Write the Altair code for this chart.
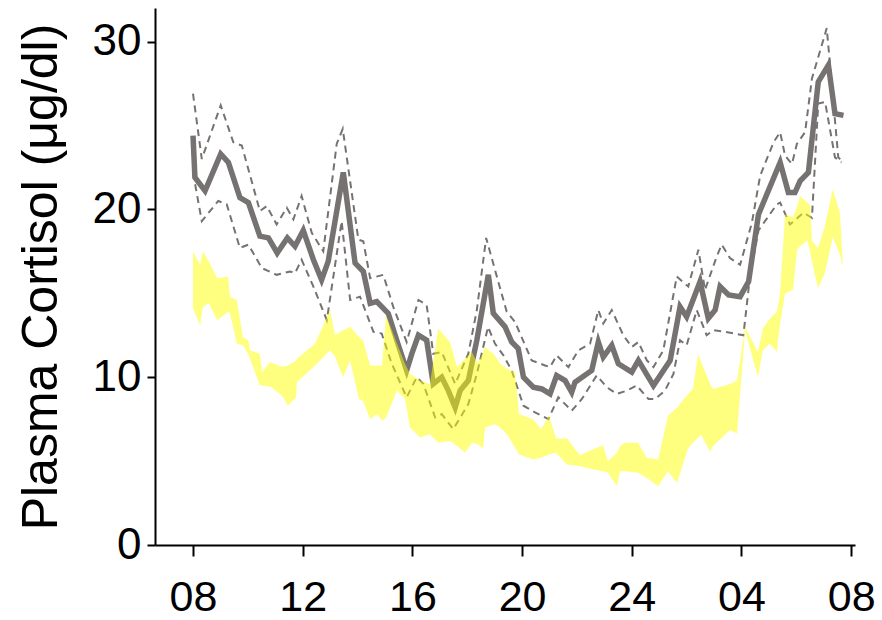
import altair as alt
import pandas as pd

# Clock time in hours from 08:00 (8) to 08:00 next day (32)
tick_hours = [8, 12, 16, 20, 24, 28, 32]
tick_labels = ["08", "12", "16", "20", "24", "04", "08"]

# Mean plasma cortisol (µg/dl), group 1
mean_hour = [8.0, 8.07, 8.44, 9.01, 9.29, 9.71, 10.02, 10.44, 10.75, 11.07, 11.44, 11.72,
             12.02, 12.39, 12.69, 12.93, 13.48, 13.91, 14.21, 14.46, 14.70, 15.12, 15.43,
             15.79, 15.98, 16.22, 16.52, 16.76, 17.07, 17.31, 17.56, 17.74, 18.04, 18.35,
             18.77, 18.95, 19.38, 19.62, 19.86, 20.05, 20.41, 20.72, 21.02, 21.26, 21.57,
             21.81, 21.93, 22.54, 22.78, 22.96, 23.27, 23.51, 24.0, 24.24, 24.79, 25.40,
             25.76, 26.0, 26.49, 26.79, 27.04, 27.22, 27.53, 27.95, 28.26, 28.62, 29.41,
             29.71, 29.95, 30.14, 30.44, 30.80, 31.17, 31.41, 31.72]
mean_value = [24.4, 21.9, 21.1, 23.3, 22.8, 20.7, 20.4, 18.4, 18.3, 17.4, 18.3, 17.8,
              18.75, 17.0, 15.8, 16.9, 22.2, 16.8, 16.3, 14.4, 14.5, 13.8, 12.2,
              10.4, 11.4, 12.5, 12.2, 9.6, 10.0, 9.2, 8.2, 9.2, 9.8, 12.2,
              16.1, 13.8, 13.0, 12.1, 11.7, 10.0, 9.4, 9.3, 9.0, 10.1, 9.8,
              9.1, 9.7, 10.4, 12.1, 11.2, 11.9, 10.8, 10.3, 11.0, 9.5, 11.0,
              14.2, 13.6, 15.7, 13.5, 14.0, 15.4, 14.9, 14.8, 15.7, 19.7, 22.8,
              21.0, 21.0, 21.7, 22.2, 27.6, 28.6, 25.7, 25.6]

# Upper error bound (dashed)
upper_hour = [8.0, 8.32, 9.01, 9.47, 9.78, 10.44, 10.69, 11.05, 11.42, 11.66, 11.96, 12.33,
              12.75, 13.24, 13.46, 14.03, 14.21, 14.46, 14.94, 15.30, 15.79, 16.22, 16.52,
              16.76, 17.07, 17.56, 18.04, 18.35, 18.69, 19.13, 19.44, 19.74, 20.35, 20.84,
              21.02, 21.26, 21.69, 22.05, 22.48, 22.78, 22.96, 23.27, 23.69, 24.0, 24.24,
              24.55, 24.79, 25.15, 25.64, 26.06, 26.43, 26.67, 27.10, 27.28, 27.58, 27.95,
              28.38, 28.68, 29.17, 29.41, 29.59, 29.84, 30.02, 30.32, 30.57, 31.11, 31.53,
              31.65]
upper_value = [26.9, 23.0, 26.2, 24.0, 23.8, 19.9, 20.2, 19.1, 20.1, 19.4, 20.8, 18.6,
               17.5, 23.9, 24.8, 18.2, 18.1, 15.9, 16.1, 14.2, 12.1, 14.6, 14.3,
               11.4, 11.5, 9.6, 11.4, 14.0, 18.3, 15.7, 13.9, 13.3, 11.0, 10.7,
               10.6, 11.3, 10.6, 11.6, 12.0, 14.0, 13.2, 14.0, 12.5, 11.8, 12.1,
               11.0, 10.6, 11.6, 16.0, 15.4, 17.6, 15.2, 17.2, 17.9, 17.1, 16.7,
               19.2, 22.0, 24.0, 24.6, 23.2, 22.7, 23.9, 24.6, 27.8, 30.8, 23.1,
               22.9]

# Lower error bound (dashed)
lower_hour = [8.0, 8.32, 8.92, 9.23, 9.71, 10.02, 10.51, 11.05, 11.54, 11.72, 11.96, 12.39,
              12.88, 13.42, 13.73, 14.09, 14.58, 14.88, 15.25, 15.79, 16.16, 16.40, 16.83,
              17.07, 17.49, 18.04, 18.35, 18.76, 19.01, 19.32, 19.62, 20.05, 20.47, 20.96,
              21.32, 21.81, 22.18, 22.72, 23.09, 23.45, 23.82, 24.18, 24.61, 24.85, 25.21,
              25.52, 25.76, 26.0, 26.37, 26.73, 26.98, 27.40, 28.07, 28.31, 28.62, 29.29,
              29.41, 29.77, 30.26, 30.57, 30.80, 31.05, 31.41, 31.65]
lower_value = [22.2, 19.3, 20.5, 20.3, 17.7, 17.9, 16.5, 16.1, 16.3, 16.2, 17.0, 15.4,
               13.4, 19.3, 14.6, 14.8, 12.7, 12.6, 10.8, 8.8, 10.0, 9.6, 7.6,
               7.8, 6.9, 8.4, 10.2, 13.0, 12.0, 11.3, 10.4, 8.3, 7.9, 7.5,
               8.8, 8.0, 8.7, 10.1, 9.4, 9.0, 9.2, 9.5, 8.7, 8.7, 9.2,
               10.2, 12.2, 11.9, 14.0, 12.5, 12.8, 12.7, 12.5, 16.0, 18.75, 20.3,
               20.4, 19.1, 19.8, 19.5, 26.3, 26.4, 23.1, 22.8]

# Group 2: range shown as a band
band_hour = [8.0, 8.26, 8.36, 8.58, 8.88, 9.28, 9.35, 9.60, 9.82, 10.01, 10.08, 10.44,
             10.52, 10.81, 11.25, 11.46, 11.76, 11.79, 12.45, 13.0, 13.18, 13.47, 13.73,
             14.05, 14.20, 14.46, 14.71, 14.89, 15.04, 15.44, 15.73, 15.91, 16.28, 16.64,
             16.94, 17.37, 17.63, 17.92, 18.17, 18.39, 18.58, 18.65, 19.01, 19.20, 19.45,
             19.74, 19.89, 20.40, 20.69, 20.98, 21.24, 21.64, 22.11, 22.59, 22.95, 23.13,
             23.46, 23.57, 23.75, 24.23, 24.55, 24.96, 25.32, 25.65, 26.05, 26.23, 26.42,
             26.53, 26.86, 26.96, 27.58, 27.84, 28.13, 28.60, 28.78, 29.04, 29.29, 29.40,
             29.59, 29.88, 30.03, 30.14, 30.40, 30.50, 30.57, 30.79, 31.04, 31.33, 31.59,
             31.70]
band_low = [14.1, 13.1, 14.2, 14.4, 13.4, 13.9, 13.8, 12.0, 11.9, 11.4, 11.1, 9.5,
            9.5, 9.45, 8.9, 8.3, 8.8, 9.7, 10.7, 11.6, 11.2, 10.0, 11.0,
            8.7, 8.6, 7.5, 7.8, 7.4, 7.6, 9.2, 8.7, 7.0, 6.4, 6.6,
            6.1, 6.2, 5.9, 5.5, 6.1, 6.0, 5.75, 7.0, 7.2, 7.0, 6.6,
            5.8, 5.4, 5.1, 5.2, 5.4, 5.5, 4.8, 4.7, 4.5, 4.4, 4.3,
            3.5, 4.4, 4.4, 4.3, 4.0, 3.5, 4.4, 3.7, 5.75, 6.1, 6.4,
            6.55, 5.55, 5.9, 6.85, 6.65, 12.8, 10.0, 11.6, 12.0, 11.5, 13.1,
            15.0, 15.2, 17.6, 17.8, 18.15, 17.5, 16.9, 15.3, 16.2, 18.35, 17.3,
            16.6]
band_high = [17.5, 16.7, 17.5, 16.9, 15.9, 16.0, 14.8, 14.6, 12.4, 12.2, 11.6, 11.4,
             10.3, 10.9, 10.6, 10.7, 11.0, 11.1, 12.0, 14.0, 12.5, 12.8, 13.0,
             12.4, 12.2, 10.7, 10.7, 10.7, 13.7, 12.0, 10.8, 10.2, 9.8, 9.6,
             12.9, 12.1, 10.6, 11.1, 11.5, 10.8, 11.5, 11.8, 11.3, 10.8, 10.5,
             10.3, 7.8, 7.5, 6.9, 7.7, 6.35, 6.35, 5.35, 5.7, 5.95, 5.0,
             5.5, 5.9, 6.1, 6.1, 5.2, 5.1, 7.7, 8.2, 9.0, 9.3, 11.4,
             10.9, 9.6, 9.3, 9.6, 9.8, 13.0, 11.5, 12.9, 13.5, 13.9, 14.9,
             19.7, 19.55, 20.2, 20.8, 20.4, 20.3, 18.15, 17.7, 19.0, 21.2, 19.8,
             16.7]

GRAY = "#767272"
FONT = "Liberation Sans"

mean_df = pd.DataFrame({"hour": mean_hour, "cortisol": mean_value})
upper_df = pd.DataFrame({"hour": upper_hour, "cortisol": upper_value})
lower_df = pd.DataFrame({"hour": lower_hour, "cortisol": lower_value})
band_df = pd.DataFrame({"hour": band_hour, "low": band_low, "high": band_high})

label_expr = "{}[indexof({}, datum.value)]".format(
    "[" + ",".join("'%s'" % s for s in tick_labels) + "]",
    "[" + ",".join(str(h) for h in tick_hours) + "]",
)

x_scale = alt.Scale(domain=[6.614, 32.14], nice=False, zero=False)
y_scale = alt.Scale(domain=[0, 32], nice=False)

x_axis = alt.Axis(values=tick_hours, labelExpr=label_expr, title=None, grid=False,
                  tickSize=11, labelPadding=20, labelFontSize=43)
y_axis = alt.Axis(values=[0, 10, 20, 30], title="Plasma Cortisol (μg/dl)", grid=False,
                  tickSize=8, labelPadding=6, labelFontSize=44, titleFontSize=50,
                  titlePadding=26)

x_enc = alt.X("hour:Q", scale=x_scale, axis=x_axis)
y_enc = alt.Y("cortisol:Q", scale=y_scale, axis=y_axis)

upper_line = alt.Chart(upper_df).mark_line(
    color=GRAY, strokeWidth=2, strokeDash=[7, 5]
).encode(x=x_enc, y=y_enc)

lower_line = alt.Chart(lower_df).mark_line(
    color=GRAY, strokeWidth=2, strokeDash=[7, 5]
).encode(x=x_enc, y=y_enc)

mean_line = alt.Chart(mean_df).mark_line(
    color=GRAY, strokeWidth=5.5
).encode(x=x_enc, y=y_enc)

band = alt.Chart(band_df).mark_area(
    color="#ffff00", opacity=0.5
).encode(
    x=alt.X("hour:Q", scale=x_scale),
    y=alt.Y("low:Q", scale=y_scale),
    y2="high:Q",
)

chart = alt.layer(upper_line, lower_line, mean_line, band).properties(
    width=700,
    height=537,
    autosize=alt.AutoSizeParams(type="none"),
    padding={"left": 155, "top": 8, "right": 27, "bottom": 75},
).configure_view(
    stroke=None
).configure_axis(
    domainColor="black",
    domainWidth=2,
    tickColor="black",
    tickWidth=2,
    labelColor="black",
    titleColor="black",
    labelFont=FONT,
    titleFont=FONT,
    titleFontWeight="normal",
)

chart.save("out.html", embed_options={"renderer": "svg", "actions": False})
